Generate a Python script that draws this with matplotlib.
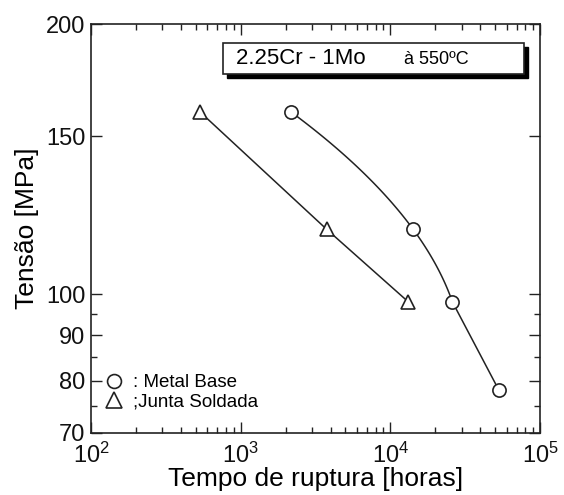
import matplotlib
matplotlib.use("Agg")
import matplotlib.pyplot as plt
import numpy as np
from matplotlib.lines import Line2D
from matplotlib.patches import Rectangle
from matplotlib.ticker import FixedLocator, FixedFormatter, NullFormatter

plt.rcParams["font.family"] = ["Liberation Sans", "DejaVu Sans"]
plt.rcParams["mathtext.fontset"] = "custom"
plt.rcParams["mathtext.rm"] = "Liberation Sans"

# tempo de ruptura [h] / tensao [MPa]
metal_x = [2170, 14200, 26000, 53000]
metal_y = [159.6, 118.1, 98.0, 78.2]
junta_x = [535, 3750, 13200]
junta_y = [159.6, 118.1, 98.0]

y_major = [70, 80, 90, 100, 150, 200]
y_minor = [75, 85, 95]

fig = plt.figure(figsize=(5.64, 4.95), dpi=100)
ax = fig.add_axes([0.1613, 0.1253, 0.9574 - 0.1613, 0.9515 - 0.1253])

# metal base: smooth curve through first three points, straight to the last
ly = np.log(metal_y)
lx = np.log10(metal_x)
coef = np.polyfit(ly[:3], lx[:3], 2)
t = np.linspace(ly[0], ly[2], 80)
cx = np.r_[10 ** np.polyval(coef, t), metal_x[3]]
cy = np.r_[np.exp(t), metal_y[3]]
ax.plot(cx, cy, color="#222222", lw=1.1, zorder=2)
ax.plot(metal_x, metal_y, ls="none", marker="o", ms=9.5, mfc="white",
        mec="#222222", mew=1.2, zorder=3)

ax.plot(junta_x, junta_y, color="#222222", lw=1.1, zorder=2)
ax.plot(junta_x, junta_y, ls="none", marker="^", ms=10, mfc="white",
        mec="#222222", mew=1.2, zorder=3)

ax.set_xscale("log")
ax.set_yscale("log")
ax.set_xlim(1e2, 1e5)
ax.set_ylim(70, 200)

ax.yaxis.set_major_locator(FixedLocator(y_major))
ax.yaxis.set_major_formatter(FixedFormatter([str(v) for v in y_major]))
ax.yaxis.set_minor_locator(FixedLocator(y_minor))
ax.yaxis.set_minor_formatter(NullFormatter())

ax.tick_params(which="both", direction="in", top=True, right=True,
               width=1.0, colors="#222222", labelcolor="#111111")
ax.tick_params(which="major", length=8, labelsize=17)
ax.tick_params(axis="x", which="major", pad=7)
ax.tick_params(axis="y", which="major", pad=4)
ax.tick_params(which="minor", length=4)
for s in ax.spines.values():
    s.set_linewidth(1.2)
    s.set_color("#222222")

ax.set_xlabel("Tempo de ruptura [horas]", fontsize=19, labelpad=-1)
ax.set_ylabel("Tensão [MPa]", fontsize=19, labelpad=5)

# caixa do titulo com sombra
bx0, bx1 = 0.294, 0.965
by0, by1 = 0.878, 0.954
ax.add_patch(Rectangle((bx0 + 0.009, by0 - 0.011), bx1 - bx0, by1 - by0,
                       transform=ax.transAxes, facecolor="black",
                       edgecolor="black", zorder=4))
ax.add_patch(Rectangle((bx0, by0), bx1 - bx0, by1 - by0,
                       transform=ax.transAxes, facecolor="white",
                       edgecolor="#222222", lw=1.2, zorder=5))
ax.text(0.323, 0.916, "2.25Cr - 1Mo", transform=ax.transAxes, fontsize=16,
        va="center", ha="left", zorder=6)
ax.text(0.697, 0.914, "à 550ºC", transform=ax.transAxes, fontsize=13,
        va="center", ha="left", zorder=6)

handles = [
    Line2D([], [], ls="none", marker="o", ms=10, mfc="white", mec="#222222", mew=1.2),
    Line2D([], [], ls="none", marker="^", ms=11, mfc="white", mec="#222222", mew=1.2),
]
ax.legend(handles, [": Metal Base", ";Junta Soldada"], loc="lower left",
          bbox_to_anchor=(0.03, 0.055), frameon=False, fontsize=13.5,
          handlelength=1.0, handletextpad=0.5, labelspacing=0.1,
          borderaxespad=0, borderpad=0)

fig.savefig("out.png", dpi=100)
